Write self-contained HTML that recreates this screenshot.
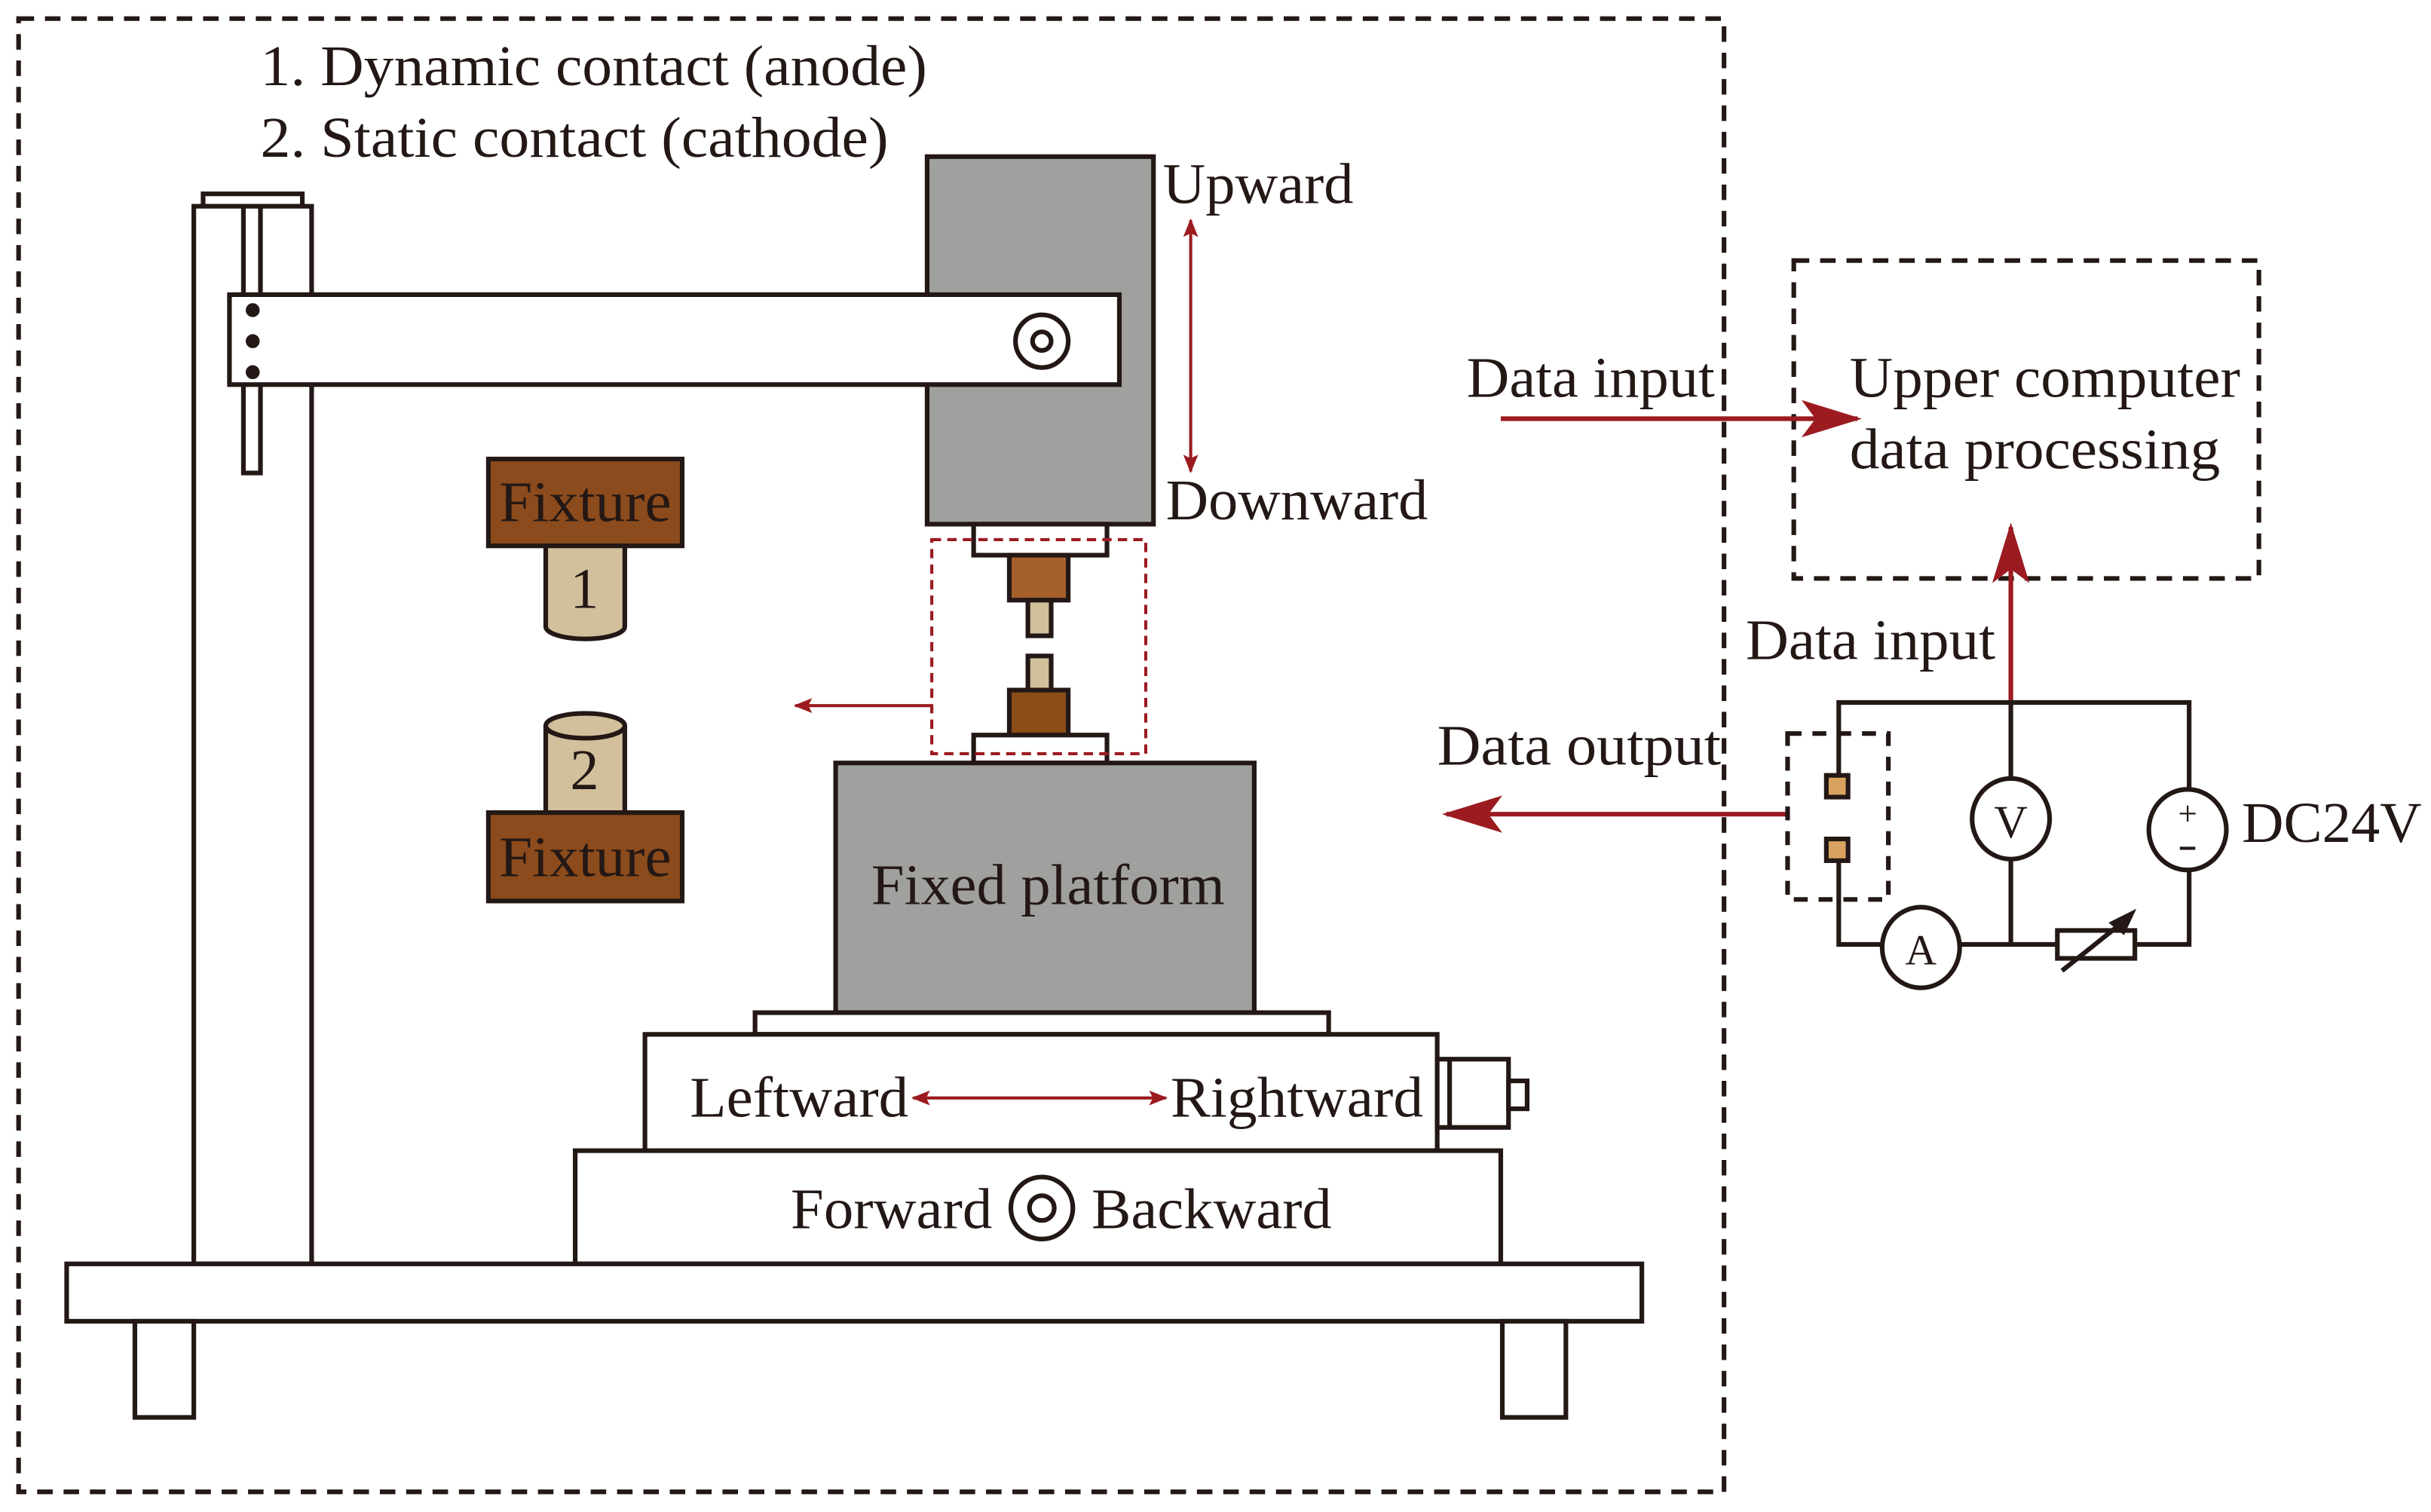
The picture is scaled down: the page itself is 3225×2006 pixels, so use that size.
<!DOCTYPE html>
<html><head><meta charset="utf-8"><style>html,body{margin:0;padding:0;background:#fff}svg{display:block}text{font-family:"Liberation Serif",serif;fill:#231815}</style></head><body>
<svg width="3225" height="2006" viewBox="0 0 1568 975" preserveAspectRatio="none" xmlns="http://www.w3.org/2000/svg">
<defs>
<marker id="ah" viewBox="0 0 13 8" refX="12" refY="4" markerWidth="13" markerHeight="8" orient="auto"><path d="M0,0 L13,4 L0,8 L3,4 z" fill="#9b1b20"/></marker>
<marker id="ahb" viewBox="0 0 10 8" refX="9" refY="4" markerWidth="6" markerHeight="5" orient="auto-start-reverse"><path d="M0,0 L10,4 L0,8 L2,4 z" fill="#9b1b20"/></marker>
</defs>
<g stroke="#231815" stroke-width="3" fill="none">
<rect x="12" y="12" width="1100" height="950" stroke-dasharray="10,7"/>
<rect x="1157" y="168" width="300" height="205" stroke-dasharray="10,7"/>
</g>
<g font-size="37">
<text x="168" y="55" textLength="430" lengthAdjust="spacingAndGlyphs">1. Dynamic contact (anode)</text>
<text x="168" y="101" textLength="405" lengthAdjust="spacingAndGlyphs">2. Static contact (cathode)</text>
</g>
<g stroke="#231815" stroke-width="3">
<rect x="131" y="125" width="64" height="8" fill="#fff"/>
<rect x="125" y="133" width="76" height="682" fill="#fff"/>
<rect x="157" y="133" width="11" height="172" fill="#fff"/>
<rect x="598" y="101" width="146" height="237" fill="#a0a09e"/>
<rect x="148" y="190" width="574" height="58" fill="#fff"/>
<circle cx="672" cy="220" r="17" fill="#fff"/>
<circle cx="672" cy="220" r="6" fill="#fff"/>
<rect x="315" y="296" width="125" height="56" fill="#8c4b1c"/>
<path d="M352,352 V404 A25.5,8 0 0 0 403,404 V352 Z" fill="#d2c09c"/>
<path d="M352,524 V468 A25.5,8 0 0 1 403,468 V524 Z" fill="#d2c09c"/>
<path d="M352,468 A25.5,8 0 0 0 403,468" fill="none"/>
<rect x="315" y="524" width="125" height="57" fill="#8c4b1c"/>
<rect x="628" y="338" width="86" height="20" fill="#fff"/>
<rect x="651" y="358" width="38" height="29" fill="#a5602c"/>
<rect x="663" y="387" width="15" height="23" fill="#d2c09c"/>
<rect x="663" y="423" width="15" height="22" fill="#d2c09c"/>
<rect x="651" y="445" width="38" height="29" fill="#8b4c18"/>
<rect x="628" y="474" width="86" height="18" fill="#fff"/>
<rect x="539" y="492" width="270" height="161" fill="#a0a09e"/>
<rect x="487" y="653" width="370" height="14" fill="#fff"/>
<rect x="416" y="667" width="511" height="75" fill="#fff"/>
<rect x="927" y="683" width="46" height="44" fill="#fff"/>
<line x1="935" y1="683" x2="935" y2="727"/>
<rect x="973" y="697" width="12" height="18" fill="#fff"/>
<rect x="371" y="742" width="597" height="73" fill="#fff"/>
<rect x="43" y="815" width="1016" height="37" fill="#fff"/>
<rect x="87" y="852" width="38" height="62" fill="#fff"/>
<rect x="969" y="852" width="41" height="62" fill="#fff"/>
<circle cx="672" cy="779" r="20" fill="#fff"/>
<circle cx="672" cy="779" r="8" fill="#fff"/>
</g>
<g fill="#231815"><circle cx="163" cy="200" r="4.5"/><circle cx="163" cy="220" r="4.5"/><circle cx="163" cy="240" r="4.5"/></g>
<rect x="601" y="348" width="138" height="138" fill="none" stroke="#9b1b20" stroke-width="2" stroke-dasharray="6,4"/>
<g stroke="#9b1b20" stroke-width="2" fill="none">
<line x1="601" y1="455" x2="513" y2="455" marker-end="url(#ahb)"/>
<line x1="768" y1="142" x2="768" y2="304" marker-start="url(#ahb)" marker-end="url(#ahb)"/>
<line x1="589" y1="708" x2="752" y2="708" marker-start="url(#ahb)" marker-end="url(#ahb)"/>
</g>
<g stroke="#9b1b20" stroke-width="3" fill="none">
<line x1="968" y1="270" x2="1198" y2="270" marker-end="url(#ah)"/>
<line x1="1297" y1="453" x2="1297" y2="340" marker-end="url(#ah)"/>
<line x1="1153" y1="525" x2="933" y2="525" marker-end="url(#ah)"/>
</g>
<g font-size="37">
<text x="322" y="336" textLength="111" lengthAdjust="spacingAndGlyphs">Fixture</text>
<text x="322" y="565" textLength="111" lengthAdjust="spacingAndGlyphs">Fixture</text>
<text x="377" y="392" text-anchor="middle">1</text>
<text x="377" y="509" text-anchor="middle">2</text>
<text x="750" y="131" textLength="123" lengthAdjust="spacingAndGlyphs">Upward</text>
<text x="752" y="335" textLength="169" lengthAdjust="spacingAndGlyphs">Downward</text>
<text x="562" y="583" textLength="228" lengthAdjust="spacingAndGlyphs">Fixed platform</text>
<text x="445" y="720" textLength="141" lengthAdjust="spacingAndGlyphs">Leftward</text>
<text x="755" y="720" textLength="163" lengthAdjust="spacingAndGlyphs">Rightward</text>
<text x="510" y="792" textLength="130" lengthAdjust="spacingAndGlyphs">Forward</text>
<text x="704" y="792" textLength="155" lengthAdjust="spacingAndGlyphs">Backward</text>
<text x="946" y="256" textLength="160" lengthAdjust="spacingAndGlyphs">Data input</text>
<text x="1193" y="256" textLength="252" lengthAdjust="spacingAndGlyphs">Upper computer</text>
<text x="1193" y="302" textLength="239" lengthAdjust="spacingAndGlyphs">data processing</text>
<text x="1126" y="425" textLength="161" lengthAdjust="spacingAndGlyphs">Data input</text>
<text x="927" y="493" textLength="183" lengthAdjust="spacingAndGlyphs">Data output</text>
<text x="1446" y="543" textLength="116" lengthAdjust="spacingAndGlyphs">DC24V</text>
</g>
<g stroke="#231815" stroke-width="3" fill="none">
<rect x="1153" y="473" width="65" height="107" stroke-dasharray="9,7"/>
<polyline points="1186,500 1186,453 1412,453 1412,509"/>
<line x1="1297" y1="453" x2="1297" y2="502"/>
<line x1="1297" y1="554" x2="1297" y2="609"/>
<polyline points="1186,555 1186,609 1214,609"/>
<line x1="1264" y1="609" x2="1327" y2="609"/>
<polyline points="1377,609 1412,609 1412,561"/>
<ellipse cx="1297" cy="528" rx="25" ry="26" fill="#fff"/>
<ellipse cx="1239" cy="611" rx="25" ry="26" fill="#fff"/>
<ellipse cx="1411" cy="535" rx="25" ry="26" fill="#fff"/>
<rect x="1327" y="600" width="50" height="18" fill="#fff"/>
<line x1="1330" y1="626" x2="1370" y2="594"/>
</g>
<path d="M1378,586 L1360,595 L1370,603 Z" fill="#231815"/>
<rect x="1178" y="500" width="14" height="14" fill="#d9a35f" stroke="#231815" stroke-width="3"/>
<rect x="1178" y="541" width="14" height="14" fill="#d9a35f" stroke="#231815" stroke-width="3"/>
<text x="1297" y="540" font-size="30" text-anchor="middle">V</text>
<text x="1239" y="622" font-size="28" text-anchor="middle">A</text>
<text x="1411" y="532" font-size="22" text-anchor="middle">+</text>
<line x1="1406" y1="547" x2="1416" y2="547" stroke="#231815" stroke-width="2"/>
</svg>
</body></html>
